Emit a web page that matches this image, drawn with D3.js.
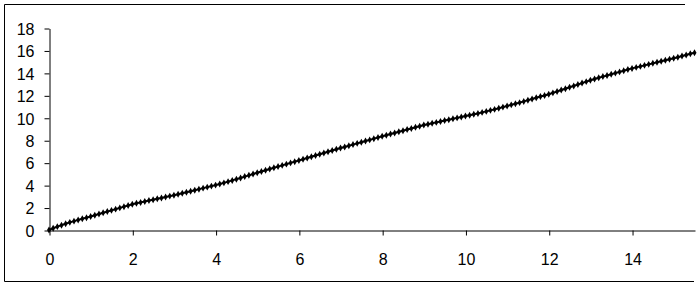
<!DOCTYPE html>
<html>
<head>
<meta charset="utf-8">
<style>
  body { margin: 0; background: #fff; }
  svg { display: block; }
  .tick text { font-family: "Liberation Sans", Arial, sans-serif; font-size: 16px; fill: #000; }
</style>
</head>
<body>
<svg width="700" height="286"></svg>
<script src="https://d3js.org/d3.v7.min.js"></script>
<script>

// x runs from 0 to 15.5 in steps of 0.1, one value per marker
var xStep = 0.1;
var yValues = [
  0.00,
  0.16, 0.30, 0.43, 0.56, 0.68, 0.79, 0.90, 1.00, 1.10, 1.20,
  1.31, 1.42, 1.53, 1.64, 1.75, 1.86, 1.97, 2.08, 2.19, 2.30,
  2.38, 2.46, 2.54, 2.62, 2.70, 2.78, 2.86, 2.94, 3.02, 3.10,
  3.19, 3.28, 3.37, 3.46, 3.55, 3.64, 3.73, 3.82, 3.91, 4.00,
  4.10, 4.20, 4.31, 4.42, 4.53, 4.64, 4.76, 4.87, 4.99, 5.10,
  5.21, 5.32, 5.43, 5.54, 5.65, 5.76, 5.87, 5.98, 6.09, 6.20,
  6.31, 6.42, 6.53, 6.64, 6.75, 6.86, 6.97, 7.08, 7.19, 7.30,
  7.40, 7.51, 7.61, 7.72, 7.82, 7.93, 8.03, 8.14, 8.24, 8.35,
  8.45, 8.55, 8.65, 8.75, 8.85, 8.95, 9.05, 9.15, 9.25, 9.35,
  9.43, 9.51, 9.59, 9.67, 9.75, 9.83, 9.91, 9.99, 10.07, 10.15,
  10.23, 10.31, 10.39, 10.48, 10.57, 10.66, 10.75, 10.85, 10.95, 11.05,
  11.15, 11.25, 11.35, 11.46, 11.57, 11.68, 11.78, 11.89, 11.99, 12.10,
  12.22, 12.34, 12.47, 12.59, 12.72, 12.84, 12.97, 13.09, 13.22, 13.35,
  13.46, 13.56, 13.67, 13.77, 13.88, 13.98, 14.09, 14.19, 14.30, 14.40,
  14.49, 14.58, 14.67, 14.76, 14.85, 14.94, 15.03, 15.12, 15.21, 15.30,
  15.40, 15.50, 15.60, 15.70, 15.80
];
var xTicks = [0, 2, 4, 6, 8, 10, 12, 14];
var yTicks = [0, 2, 4, 6, 8, 10, 12, 14, 16, 18];

var data = yValues.map(function (v, i) {
  return { x: +(i * xStep).toFixed(1), y: v };
});

var svg = d3.select("svg");

// outer frame (right edge is cut off in the picture)
svg.append("path")
  .attr("d", "M685,4.5 H4.5 V281.5 H694")
  .attr("fill", "none")
  .attr("stroke", "#000")
  .attr("stroke-width", 1);

var x = d3.scaleLinear().domain([0, 15.5]).range([49, 694.5]);
var y = d3.scaleLinear().domain([0, 18]).range([230, 28]);

var xAxis = svg.append("g")
  .attr("transform", "translate(0.5,230.5)")
  .call(d3.axisBottom(x).tickValues(xTicks).tickSize(5).tickPadding(18).tickSizeOuter(0));

var yAxis = svg.append("g")
  .attr("transform", "translate(49.5,0.5)")
  .call(d3.axisLeft(y).tickValues(yTicks).tickSize(5).tickPadding(10).tickSizeOuter(0));

[xAxis, yAxis].forEach(function (a) {
  a.select(".domain").attr("stroke", "#000");
  a.selectAll(".tick line").attr("stroke", "#000");
});
yAxis.selectAll(".tick text").attr("dy", "0.36em");

var line = d3.line()
  .x(function (d) { return x(d.x); })
  .y(function (d) { return y(d.y); });

svg.append("path")
  .datum(data)
  .attr("fill", "none")
  .attr("stroke", "#000")
  .attr("stroke-width", 2)
  .attr("d", line);

svg.selectAll(".pt")
  .data(data)
  .enter().append("path")
  .attr("class", "pt")
  .attr("transform", function (d) { return "translate(" + x(d.x) + "," + y(d.y) + ")"; })
  .attr("d", d3.symbol().type(d3.symbolDiamond).size(14))
  .attr("fill", "#000");

</script>
</body>
</html>
